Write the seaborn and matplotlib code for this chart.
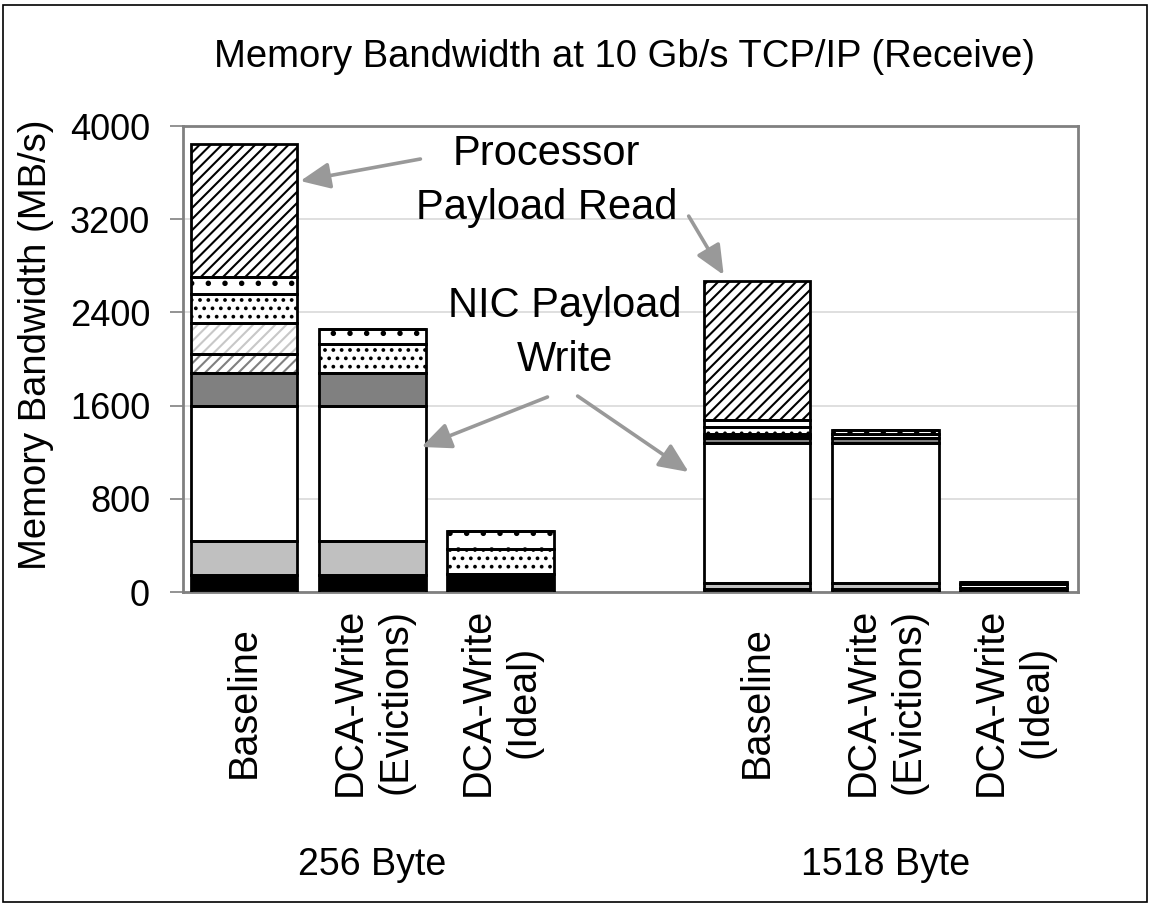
import numpy as np
import pandas as pd
import matplotlib
matplotlib.use('Agg')
import matplotlib.pyplot as plt
from matplotlib.patches import Rectangle
import seaborn as sns

# bars: two packet sizes, three configurations each (values in MB/s)
configs = ['Baseline', 'DCA-Write\n(Evictions)', 'DCA-Write\n(Ideal)',
           'Baseline', 'DCA-Write\n(Evictions)', 'DCA-Write\n(Ideal)']
positions = [0, 1, 2, 4, 5, 6]
groups = ['256 Byte', '1518 Byte']
group_pos = [1, 5]

# stacked components, bottom to top
nic_desc_write = [150, 150, 155, 30, 30, 35]
nic_header_write = [290, 290, 0, 45, 45, 0]
nic_payload_write = [1160, 1160, 0, 1205, 1205, 0]
proc_desc_read = [280, 280, 0, 40, 40, 0]
evict_desc = [165, 0, 0, 15, 0, 0]
evict_header = [265, 0, 0, 25, 0, 0]
proc_header_read = [245, 250, 215, 60, 40, 30]
proc_misc_read = [145, 130, 150, 55, 30, 23]
proc_payload_read = [1150, 0, 0, 1195, 0, 0]

yticks = [0, 800, 1600, 2400, 3200, 4000]
title = 'Memory Bandwidth at 10 Gb/s TCP/IP (Receive)'
ylabel = 'Memory Bandwidth (MB/s)'

# (values, facecolor, hatch, hatch colour)
layers = [
    (nic_desc_write, 'black', '', 'black'),
    (nic_header_write, '#c0c0c0', '', 'black'),
    (nic_payload_write, 'white', '', 'black'),
    (proc_desc_read, '#808080', '', 'black'),
    (evict_desc, 'white', '///', '#808080'),
    (evict_header, 'white', '///', '#c8c8c8'),
    (proc_header_read, 'white', '..', 'black'),
    (proc_misc_read, 'white', '.', 'black'),
    (proc_payload_read, 'white', '///', 'black'),
]

sns.set_theme(style='white')
plt.rcParams['font.family'] = ['Liberation Sans', 'DejaVu Sans']
plt.rcParams['hatch.linewidth'] = 1.5
for k in ['text.color', 'axes.labelcolor', 'xtick.labelcolor', 'ytick.labelcolor']:
    plt.rcParams[k] = 'black'

fig = plt.figure(figsize=(11.54, 9.08), dpi=100)
ax = fig.add_axes([0.1583, 0.348, 0.7756, 0.5132])

df = pd.DataFrame({'pos': positions})
bottom = np.zeros(len(positions))
for vals, fc, hatch, hc in layers:
    df['val'] = vals
    # fill + hatch first, the black outline goes on top afterwards
    sns.barplot(data=df, x='pos', y='val', native_scale=True, errorbar=None,
                width=0.83, ax=ax, color='white', saturation=1,
                bottom=bottom, facecolor=fc,
                edgecolor=hc, hatch=hatch, linewidth=0, zorder=2)
    sns.barplot(data=df, x='pos', y='val', native_scale=True, errorbar=None,
                width=0.83, ax=ax, color='white', saturation=1,
                bottom=bottom, facecolor='none',
                edgecolor='black', linewidth=2.0, zorder=3)
    bottom = bottom + np.array(vals)

ax.set_xlim(-0.48, 6.5)
ax.set_ylim(0, 4000)
ax.set_yticks(yticks)
ax.set_yticklabels([str(t) for t in yticks], fontsize=26, color='black')
ax.set_xticks([])
ax.set_xlabel('')
ax.set_ylabel(ylabel, fontsize=27.5, color='black')
ax.yaxis.label.set_va('center')
ax.yaxis.set_label_coords(-0.164, 0.53)
ax.tick_params(axis='y', left=True, length=9.5, width=1.2, color='#808080',
               pad=14)
ax.yaxis.grid(True, color='#d9d9d9', linewidth=1.2, zorder=0)
ax.set_axisbelow(True)
for s in ax.spines.values():
    s.set_color('#808080')
    s.set_linewidth(2.0)
    s.set_visible(True)

# rotated bar labels and group labels under the axis
for p, lab in zip(positions, configs):
    ax.text(p, -0.236, lab, transform=ax.get_xaxis_transform(), rotation=90,
            ha='center', va='center', multialignment='center',
            linespacing=1.25, fontsize=28.5, color='black')
for p, g in zip(group_pos, groups):
    ax.text(p, -0.586, g, transform=ax.get_xaxis_transform(),
            ha='center', va='center', fontsize=27, color='black')

fig.text(625 / 1154, 1 - 57 / 908, title, ha='center', va='center',
         fontsize=27.5, color='black')

# callouts
ax.text(2.357, 3665, 'Processor', ha='center', va='baseline', fontsize=30)
ax.text(2.357, 3202, 'Payload Read', ha='center', va='baseline', fontsize=30)
ax.text(2.50, 2361, 'NIC Payload', ha='center', va='baseline', fontsize=30)
ax.text(2.50, 1897, 'Write', ha='center', va='baseline', fontsize=30)

arrows = [((1.374, 3717), (0.437, 3528)),
          ((3.466, 3227), (3.739, 2721)),
          ((2.365, 1674), (1.382, 1245)),
          ((2.60, 1682), (3.466, 1030))]
for tail, head in arrows:
    ax.annotate('', xy=head, xytext=tail,
                arrowprops=dict(arrowstyle='-|>,head_length=0.9,head_width=0.4',
                                color='#999999', lw=2.6, shrinkA=0, shrinkB=0,
                                mutation_scale=20), zorder=5)

fig.add_artist(Rectangle((3 / 1154, 6 / 908), 1144 / 1154, 897 / 908,
                         transform=fig.transFigure, fill=False,
                         edgecolor='black', linewidth=1.2))

fig.savefig('out.png', dpi=100)
